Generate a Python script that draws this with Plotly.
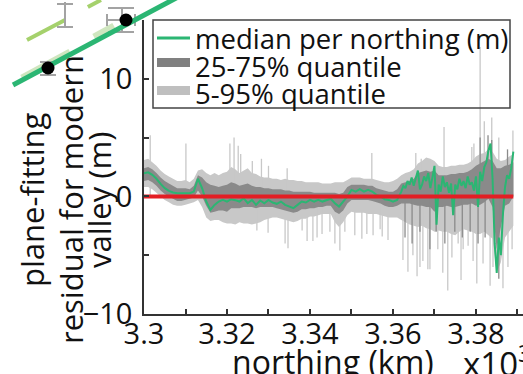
import plotly.graph_objects as go

# ---------------- data ----------------
north_start = 3.300       # x10^3 km
band_step = 0.001
right_start = 3.362
right_step = 0.0005

q95 = [3.1, 3.2, 2.9, 2.6, 2.2, 1.9, 1.7, 1.5, 1.3, 1.3,
       1.4, 1.2, 1.5, 2.2, 2.3, 2.0, 1.8, 2.0, 1.8, 2.0,
       2.1, 2.5, 2.3, 2.0, 2.2, 2.4, 2.0, 1.9, 1.7, 1.6,
       1.6, 1.5, 1.5, 1.4, 1.5, 1.4, 1.4, 1.3, 1.3, 1.2,
       1.2, 1.2, 1.2, 1.1, 1.1, 1.1, 1.2, 1.2, 1.2, 1.4,
       1.6, 1.6, 1.6, 1.5, 1.5, 1.5, 1.4, 1.3, 1.2, 1.2,
       1.3, 1.5, 1.8, 2.0, 2.1, 2.3, 2.8, 3.0, 3.3, 3.2,
       3.0, 2.6, 2.5, 2.5, 2.6, 2.6, 2.7, 2.7, 2.8, 3.0,
       3.4, 3.6, 3.7, 4.0, 3.8, 3.2, 3.0, 3.1, 3.4, 3.6]
q75 = [2.4, 2.5, 2.3, 2.0, 1.6, 1.3, 1.1, 0.9, 0.7, 0.7,
       0.7, 0.6, 0.9, 1.8, 1.6, 1.2, 1.0, 0.9, 0.8, 0.9,
       1.0, 1.2, 1.1, 0.9, 1.0, 1.1, 0.9, 0.8, 0.8, 0.7,
       0.7, 0.6, 0.6, 0.6, 0.5, 0.5, 0.4, 0.4, 0.4, 0.4,
       0.4, 0.3, 0.3, 0.3, 0.3, 0.3, 0.3, 0.2, 0.3, 0.8,
       1.0, 1.0, 1.0, 1.0, 0.9, 0.9, 0.7, 0.6, 0.5, 0.4,
       0.4, 0.6, 1.1, 1.2, 1.3, 1.5, 2.0, 2.1, 2.2, 2.1,
       2.2, 1.8, 1.8, 1.8, 1.9, 1.9, 2.0, 2.0, 2.1, 2.3,
       2.6, 2.8, 3.0, 3.2, 3.0, 2.4, 2.4, 2.6, 2.7, 2.9]
q25 = [1.3, 1.4, 1.2, 0.9, 0.5, 0.2, 0.0, -0.2, -0.4, -0.4,
       -0.3, -0.2, -0.1, 0.5, 0.0, -0.8, -1.4, -1.3, -1.2, -1.2,
       -1.3, -1.0, -1.0, -1.0, -0.9, -0.9, -0.9, -1.0, -0.9, -0.9,
       -0.9, -0.9, -1.0, -1.1, -1.2, -1.3, -1.4, -1.3, -1.1, -1.1,
       -1.0, -1.0, -0.9, -0.9, -0.8, -0.8, -1.3, -1.5, -1.2, -0.6,
       -0.3, -0.3, -0.3, -0.3, -0.3, -0.4, -0.5, -0.6, -0.8, -0.9,
       -0.9, -0.8, -0.6, -0.6, -0.6, -0.7, -0.8, -0.8, -0.9, -0.9,
       -1.3, -0.9, -0.9, -0.8, -0.9, -0.9, -0.8, -0.7, -0.7, -0.6,
       -0.8, -0.7, -0.5, -0.2, -0.9, -4.5, -2.6, -0.8, -0.6, 0.0]
q05 = [0.8, 0.8, 0.6, 0.3, 0.0, -0.3, -0.5, -0.7, -0.8, -0.8,
       -0.7, -0.6, -0.5, -0.3, -0.9, -1.8, -2.1, -2.0, -2.0, -2.2,
       -2.3, -2.3, -2.4, -2.2, -2.3, -2.3, -2.4, -2.3, -2.2, -2.0,
       -1.9, -1.8, -1.8, -1.9, -2.0, -2.1, -2.2, -2.1, -1.9, -1.9,
       -1.7, -1.7, -1.6, -1.5, -1.5, -1.5, -2.2, -2.6, -2.2, -1.6,
       -1.3, -1.4, -1.4, -1.4, -1.5, -1.5, -1.5, -1.6, -1.7, -1.8,
       -1.8, -1.8, -2.0, -2.2, -2.4, -2.5, -2.6, -2.5, -2.7, -2.8,
       -3.0, -2.9, -3.0, -3.0, -3.2, -3.3, -3.0, -2.8, -2.9, -3.0,
       -3.2, -3.2, -3.0, -3.3, -3.6, -6.5, -5.6, -3.5, -3.0, -2.5]

median_left = [1.97, 2.05, 1.83, 1.5, 1.06, 0.7, 0.47, 0.33, 0.27, 0.27,
               0.21, 0.27, 0.41, 1.5, 0.7, -0.44, -1.15, -0.72, -0.44, -0.3,
               -0.44, -0.24, -0.32, -0.44, -0.15, -0.58, -0.3, -0.72, -0.35, -0.58,
               -0.3, -0.52, -0.63, -0.44, -0.72, -0.86, -1.0, -0.72, -0.44, -0.52,
               -0.3, -0.44, -0.3, -0.44, -0.3, -0.2, -0.58, -0.86, -0.44, 0.0,
               0.55, 0.41, 0.61, 0.41, 0.55, 0.41, 0.13, 0.0, -0.24, -0.3,
               -0.44, -0.3]
median_right = [0.4, 0.9, 0.7, 1.3, 1.0, 1.6, 0.9, 1.5, 2.2, 0.6,
                1.0, 1.7, 1.3, 2.0, 0.7, 1.6, 2.6, -2.4, 1.0, 0.4,
                1.7, 0.8, 1.2, 0.3, 1.1, -1.6, 1.0, 0.6, 1.5, 0.9,
                1.3, 0.7, 1.7, 1.0, 1.2, 0.5, 1.7, -0.9, 2.1, 1.3,
                2.5, 2.9, 3.9, 4.5, 1.5, -4.0, -6.5, -3.5, -5.0, -1.5,
                0.8, 1.8, 1.5, 2.4, 3.8]

# thin outliers of the 5-95% band (northing, tip value)
spike_light_north = [3.3015, 3.3101, 3.3207, 3.3217, 3.3227, 3.3233, 3.3261, 3.3283,
                     3.3300, 3.3345, 3.3549, 3.3655, 3.3668, 3.3723, 3.3790, 3.3795,
                     3.3810, 3.3820, 3.3838, 3.3855, 3.3889,
                     3.3272, 3.3299, 3.3340, 3.3347, 3.3381, 3.3393, 3.3407, 3.3417,
                     3.3429, 3.3448, 3.3460, 3.3472, 3.3484, 3.3508, 3.3525, 3.3537,
                     3.3552, 3.3569, 3.3574, 3.3588, 3.3624, 3.3636, 3.3648, 3.3658,
                     3.3665, 3.3672, 3.3684, 3.3689, 3.3708, 3.3720, 3.3732, 3.3742,
                     3.3757, 3.3764, 3.3769, 3.3781, 3.3793, 3.3802, 3.3817, 3.3834,
                     3.3841, 3.3865, 3.3877, 3.3887]
spike_light_tip = [5.2, 4.5, 4.5, 5.0, 4.3, 3.6, 3.0, 3.2,
                   2.6, 2.4, 3.7, 3.7, 3.2, 5.9, 4.2, 4.5,
                   12.7, 6.4, 6.7, 5.0, 5.6,
                   -2.9, -3.1, -4.0, -4.4, -2.9, -3.8, -3.8, -3.5,
                   -3.2, -3.0, -4.0, -4.6, -3.0, -3.3, -3.6, -3.2,
                   -3.3, -2.8, -3.4, -3.7, -5.4, -6.4, -5.0, -6.8,
                   -6.0, -5.5, -6.2, -6.2, -4.5, -6.5, -8.0, -5.2,
                   -4.0, -7.1, -4.5, -4.2, -5.5, -7.4, -5.7, -7.6,
                   -6.0, -7.8, -6.0, -4.5]

# thin outliers of the 25-75% band
spike_dark_north = [3.3629, 3.3646, 3.3665, 3.3689, 3.3704, 3.3725, 3.3749, 3.3767,
                    3.3786, 3.3805, 3.3810, 3.3822, 3.3829, 3.3838, 3.3855, 3.3876]
spike_dark_tip = [-3.5, -4.0, -3.0, -4.5, -3.0, -4.0, -3.0, -3.5,
                  -3.0, -4.0, 5.0, -3.5, 5.2, 4.8, -7.0, 4.0]

zero_level = 0.0

x_tickvals = [3.30, 3.32, 3.34, 3.36, 3.38]
x_ticktext = ["3.3", "3.32", "3.34", "3.36", "3.38"]
x_minor_vals = [3.31, 3.33, 3.35, 3.37, 3.39]
y_tickvals = [-10, 0, 10]
y_ticktext = ["\u221210", "0", "10"]
y_minor_vals = [-5, 5, 15]

# fragment of the neighbouring panel (its own unit square)
nb_dark_x = [0.0249, 0.344]
nb_dark_y = [0.7727, 1.0107]
nb_pale_x = [0.042, 0.134, None, 0.1797, 0.218]
nb_pale_y = [0.7914, 0.861, None, 0.901, 0.9305]
nb_lime_x = [0.0516, 0.1243, None, 0.168, 0.193]
nb_lime_y = [0.893, 0.9465, None, 0.981, 1.0]
nb_err_x = [0.1243, 0.1243, None, 0.109, 0.1396, None, 0.109, 0.1396, None,
            0.2333, 0.2333, None, 0.2065, 0.2562, None, 0.2065, 0.2562, None,
            0.2046, 0.2581, None, 0.2046, 0.2046, None, 0.2581, 0.2581, None,
            0.0765, 0.1071, None, 0.0765, 0.1071]
nb_err_y = [0.9947, 0.9278, None, 0.9893, 0.9893, None, 0.9278, 0.9278, None,
            0.9786, 0.9144, None, 0.9786, 0.9786, None, 0.9144, 0.9144, None,
            0.9465, 0.9465, None, 0.9626, 0.9305, None, 0.9626, 0.9305, None,
            0.8342, 0.8342, None, 0.7995, 0.7995]
nb_dot_x = [0.0918, 0.2409]
nb_dot_y = [0.8182, 0.9465]

# ---------------- build ----------------
north_band = [round(north_start + band_step * i, 4) for i in range(len(q05))]
north_med = ([round(north_start + band_step * i, 4) for i in range(len(median_left))]
             + [round(right_start + right_step * i, 4) for i in range(len(median_right))])
median = median_left + median_right


def spikes(north, tip):
    xs, ys = [], []
    for n, t in zip(north, tip):
        xs += [n, n, None]
        ys += [zero_level, t, None]
    return xs, ys


GREEN = "#2bb673"
DARK = "#8a8a8a"
LIGHT = "#c8c8c8"
RED = "#e31e24"
AX = "#333333"
FONT = "Open Sans"

fig = go.Figure()
fig.add_trace(go.Scatter(x=north_band, y=q05, mode="lines", line=dict(width=0, color=LIGHT),
                         hoverinfo="skip", showlegend=False))
fig.add_trace(go.Scatter(x=north_band, y=q95, mode="lines", line=dict(width=0, color=LIGHT),
                         fill="tonexty", fillcolor=LIGHT, name="5-95% quantile", showlegend=False))
sx, sy = spikes(spike_light_north, spike_light_tip)
fig.add_trace(go.Scatter(x=sx, y=sy, mode="lines", line=dict(width=1.3, color=LIGHT),
                         hoverinfo="skip", showlegend=False))
fig.add_trace(go.Scatter(x=north_band, y=q25, mode="lines", line=dict(width=0, color=DARK),
                         hoverinfo="skip", showlegend=False))
fig.add_trace(go.Scatter(x=north_band, y=q75, mode="lines", line=dict(width=0, color=DARK),
                         fill="tonexty", fillcolor=DARK, name="25-75% quantile", showlegend=False))
sx, sy = spikes(spike_dark_north, spike_dark_tip)
fig.add_trace(go.Scatter(x=sx, y=sy, mode="lines", line=dict(width=1.3, color=DARK),
                         hoverinfo="skip", showlegend=False))
fig.add_trace(go.Scatter(x=north_med, y=median, mode="lines", line=dict(width=2, color=GREEN),
                         name="median per northing (m)", showlegend=False))
fig.add_trace(go.Scatter(x=[north_band[0], north_band[-1]], y=[zero_level, zero_level], mode="lines",
                         line=dict(width=4, color=RED), hoverinfo="skip", showlegend=False))

# neighbouring panel fragment
fig.add_trace(go.Scatter(x=nb_pale_x, y=nb_pale_y, mode="lines", line=dict(width=7, color="#cfe6bf"),
                         xaxis="x2", yaxis="y2", hoverinfo="skip", showlegend=False))
fig.add_trace(go.Scatter(x=nb_lime_x, y=nb_lime_y, mode="lines", line=dict(width=4, color="#a5d16c"),
                         xaxis="x2", yaxis="y2", hoverinfo="skip", showlegend=False))
fig.add_trace(go.Scatter(x=nb_err_x, y=nb_err_y, mode="lines", line=dict(width=2, color="#a3a3a3"),
                         xaxis="x2", yaxis="y2", hoverinfo="skip", showlegend=False))
fig.add_trace(go.Scatter(x=nb_dark_x, y=nb_dark_y, mode="lines", line=dict(width=5, color=GREEN),
                         xaxis="x2", yaxis="y2", hoverinfo="skip", showlegend=False))
fig.add_trace(go.Scatter(x=nb_dot_x, y=nb_dot_y, mode="markers", marker=dict(size=13, color="black"),
                         xaxis="x2", yaxis="y2", hoverinfo="skip", showlegend=False))

W, H = 523, 374

def fx(px):
    return px / W

def fy(py):
    return 1 - py / H

axis_common = dict(showline=True, linecolor=AX, linewidth=1.5, ticks="inside", ticklen=5,
                   tickwidth=1.5, tickcolor=AX, showgrid=False, zeroline=False, automargin=False,
                   tickfont=dict(family=FONT, size=29, color="#111"))
minor_common = dict(ticks="inside", ticklen=5, tickwidth=1.5, tickcolor=AX, showgrid=False)

fig.update_layout(
    width=W, height=H,
    margin=dict(l=0, r=0, t=0, b=0, autoexpand=False),
    paper_bgcolor="white", plot_bgcolor="rgba(0,0,0,0)",
    showlegend=False,
    font=dict(family=FONT, color="#111"),
    xaxis=dict(domain=[fx(144), 1.0], range=[3.3, 3.39133], tickvals=x_tickvals,
               ticktext=x_ticktext, anchor="y", ticklabelstandoff=-7,
               minor=dict(tickvals=x_minor_vals, **minor_common), **axis_common),
    yaxis=dict(domain=[fy(314), fy(20)], range=[-10, 15], tickvals=y_tickvals,
               ticktext=y_ticktext, anchor="x", ticklabelstandoff=4,
               minor=dict(tickvals=y_minor_vals, **minor_common), **axis_common),
    xaxis2=dict(domain=[0, 1], range=[0, 1], visible=False, anchor="y2", fixedrange=True,
                automargin=False),
    yaxis2=dict(domain=[0, 1], range=[0, 1], visible=False, anchor="x2", fixedrange=True,
                automargin=False),
)

# legend drawn as a framed key
shapes = [
    dict(type="rect", xref="paper", yref="paper", x0=fx(153), x1=fx(510), y0=fy(108), y1=fy(20),
         line=dict(color="#444", width=1.5), fillcolor="rgba(0,0,0,0)", layer="above"),
    dict(type="line", xref="paper", yref="paper", x0=fx(157), x1=fx(190), y0=fy(38), y1=fy(38),
         line=dict(color=GREEN, width=3), layer="above"),
    dict(type="rect", xref="paper", yref="paper", x0=fx(157), x1=fx(190), y0=fy(67), y1=fy(58),
         line=dict(width=0), fillcolor="#808080", layer="above"),
    dict(type="rect", xref="paper", yref="paper", x0=fx(157), x1=fx(190), y0=fy(95), y1=fy(86),
         line=dict(width=0), fillcolor="#bfbfbf", layer="above"),
]
fig.update_layout(shapes=shapes)

ann = []
for text, py in [("median per northing (m)", 39), ("25-75% quantile", 66), ("5-95% quantile", 93)]:
    ann.append(dict(text=text, xref="paper", yref="paper", x=fx(193), y=fy(py), xanchor="left",
                    yanchor="middle", showarrow=False, font=dict(family=FONT, size=27.5, color="#111")))
for text, px in [("plane-fitting", 32), ("residual for modern", 71), ("valley (m)", 99)]:
    ann.append(dict(text=text, xref="paper", yref="paper", x=fx(px), y=fy(200), xanchor="center",
                    yanchor="middle", textangle=-90, showarrow=False,
                    font=dict(family=FONT, size=31, color="#111")))
ann.append(dict(text="northing (km)", xref="paper", yref="paper", x=fx(333), y=fy(361),
                xanchor="center", yanchor="middle", showarrow=False,
                font=dict(family=FONT, size=32, color="#111")))
ann.append(dict(text="x10<sup>3</sup>", xref="paper", yref="paper", x=fx(461), y=fy(361),
                xanchor="left", yanchor="middle", showarrow=False,
                font=dict(family=FONT, size=33, color="#111")))
fig.update_layout(annotations=ann)

fig.write_html("out.html", config={"displayModeBar": False},
               post_script="document.body.style.margin='0';document.body.style.overflow='hidden';")
